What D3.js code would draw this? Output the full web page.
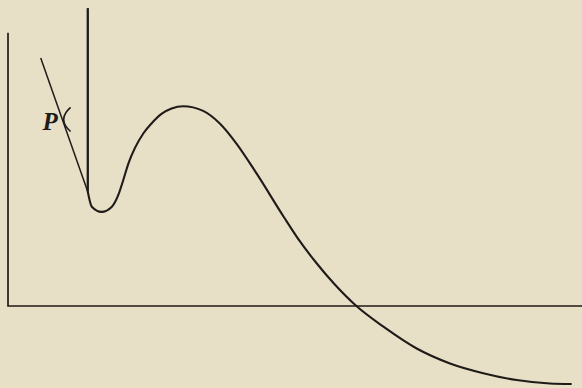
<!DOCTYPE html>
<html>
<head>
<meta charset="utf-8">
<script src="https://cdn.jsdelivr.net/npm/d3@7"></script>
<style>
  html, body { margin: 0; padding: 0; background: #e8dfc7; }
  svg { display: block; }
</style>
</head>
<body>
<div id="chart"></div>
<script>
// curve, in axis units (origin at the axes corner)
var curveX = [1.39, 1.46, 1.63, 1.81, 1.92, 2.01, 2.10, 2.21, 2.36, 2.50, 2.68, 2.85, 3.05, 3.40, 3.69, 3.98, 4.33, 4.80, 5.09, 5.38, 5.67, 6.08, 6.54, 7.12, 7.70, 8.28, 8.86, 9.44, 9.82];
var curveY = [1.99, 1.73, 1.64, 1.73, 1.93, 2.20, 2.49, 2.75, 3.01, 3.18, 3.35, 3.44, 3.48, 3.40, 3.18, 2.83, 2.31, 1.56, 1.12, 0.74, 0.40, -0.01, -0.36, -0.74, -1.00, -1.17, -1.29, -1.35, -1.36];

// tangent at P and the vertical through the point of contact
var tangentX = [0.57, 1.39];
var tangentY = [4.32, 1.99];
var verticalX = [1.39, 1.39];
var verticalY = [5.19, 1.99];

// small arc marking the angle at P
var arcX = [1.09, 1.01, 0.97, 1.01, 1.09];
var arcY = [3.46, 3.37, 3.25, 3.13, 3.04];

var labelText = "P";
var labelX = 0.60;
var labelY = 3.07;

var yAxisTop = 4.76;
var xAxisEnd = 10;

var width = 582, height = 388;

var x = d3.scaleLinear().domain([0, 10]).range([8, 582]);
var y = d3.scaleLinear().domain([0, 5]).range([306, 19]);

var svg = d3.select("#chart").append("svg")
    .attr("width", width)
    .attr("height", height);

var ink = "#1f1b19";

var line = d3.line()
    .x(function(d) { return x(d[0]); })
    .y(function(d) { return y(d[1]); });

// axes
svg.append("path")
    .attr("d", line([[0, yAxisTop], [0, 0], [xAxisEnd, 0]]))
    .attr("fill", "none")
    .attr("stroke", ink)
    .attr("stroke-width", 1.7);

// vertical line
svg.append("path")
    .attr("d", line(d3.zip(verticalX, verticalY)))
    .attr("fill", "none")
    .attr("stroke", ink)
    .attr("stroke-width", 2.3);

// tangent
svg.append("path")
    .attr("d", line(d3.zip(tangentX, tangentY)))
    .attr("fill", "none")
    .attr("stroke", ink)
    .attr("stroke-width", 1.5);

// the curve
var smooth = d3.line()
    .x(function(d) { return x(d[0]); })
    .y(function(d) { return y(d[1]); })
    .curve(d3.curveMonotoneX);

svg.append("path")
    .attr("d", smooth(d3.zip(curveX, curveY)))
    .attr("fill", "none")
    .attr("stroke", ink)
    .attr("stroke-width", 2.1);

// angle arc
var arcLine = d3.line()
    .x(function(d) { return x(d[0]); })
    .y(function(d) { return y(d[1]); })
    .curve(d3.curveNatural);

svg.append("path")
    .attr("d", arcLine(d3.zip(arcX, arcY)))
    .attr("fill", "none")
    .attr("stroke", ink)
    .attr("stroke-width", 1.6);

svg.append("text")
    .attr("x", x(labelX))
    .attr("y", y(labelY))
    .attr("font-family", "'Liberation Serif', 'DejaVu Serif', serif")
    .attr("font-weight", "bold")
    .attr("font-style", "italic")
    .attr("font-size", 25)
    .attr("fill", ink)
    .text(labelText);
</script>
</body>
</html>
